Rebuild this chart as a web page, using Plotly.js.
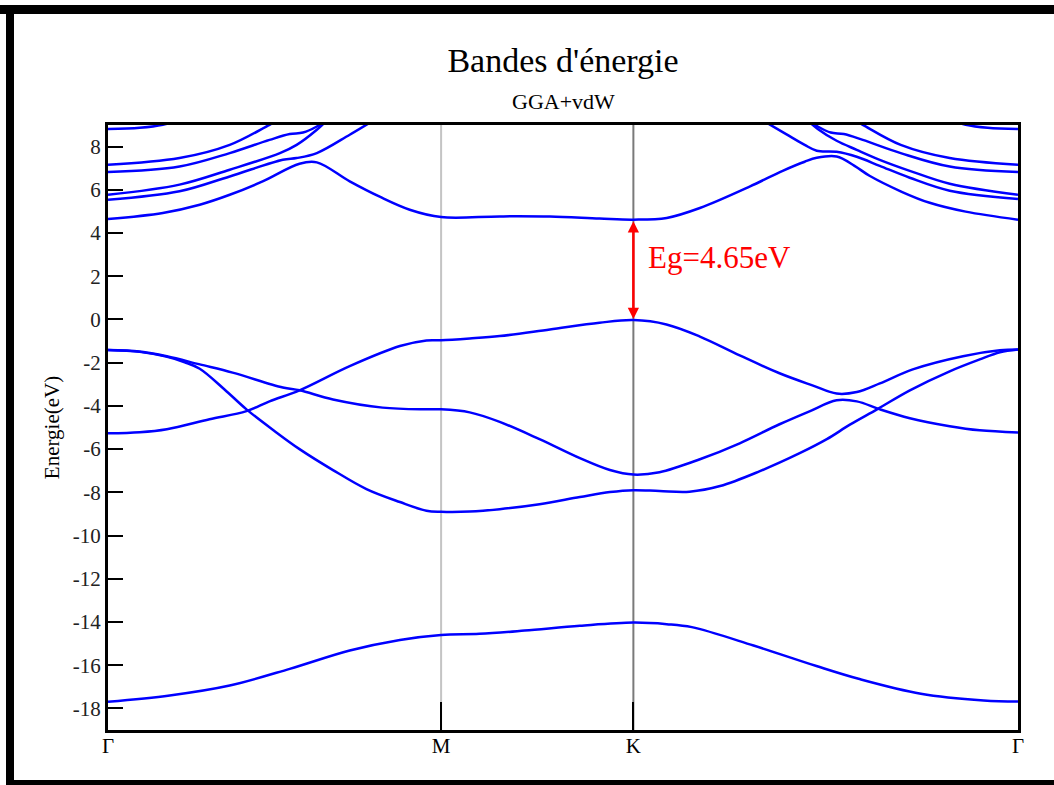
<!DOCTYPE html>
<html>
<head>
<meta charset="utf-8">
<script src="https://cdn.plot.ly/plotly-3.0.1.min.js"></script>
<style>
  html, body { margin: 0; padding: 0; background: #ffffff; }
  #chart { width: 1054px; height: 785px; }
</style>
</head>
<body>
<div id="chart"></div>
<script>
// High-symmetry points along the path (k in path units)
const kLabels = ['Γ', 'M', 'K', 'Γ'];
const kTicks = [0, 0.5774, 0.9107, 1.5774];
const eTicks = [-18, -16, -14, -12, -10, -8, -6, -4, -2, 0, 2, 4, 6, 8];
const eTickText = ['-18', '-16', '-14', '-12', '-10', '-8', '-6', '-4', '-2', '0', '2', '4', '6', '8'];

// Lowest valence band
const kS = [0, 0.107, 0.211, 0.315, 0.419, 0.506, 0.5774, 0.644, 0.722, 0.818, 0.9107, 0.9685, 1.012, 1.119, 1.228, 1.301, 1.409, 1.518, 1.5774];
const eS = [-17.69, -17.40, -16.94, -16.17, -15.32, -14.83, -14.60, -14.55, -14.40, -14.18, -14.03, -14.10, -14.24, -15.09, -16.04, -16.63, -17.32, -17.63, -17.68];

// Valence band A (Γ -1.4 -> M -8.9 -> K -7.9 -> Γ -1.4)
const kVA = [0, 0.055, 0.101, 0.133, 0.159, 0.202, 0.240, 0.289, 0.332, 0.390, 0.448, 0.506, 0.552, 0.5774, 0.627, 0.679, 0.748, 0.818, 0.870, 0.9107, 0.956, 1.008, 1.061, 1.130, 1.199, 1.246, 1.286, 1.333, 1.390, 1.459, 1.511, 1.546, 1.5774];
const eVA = [-1.41, -1.50, -1.72, -1.98, -2.28, -3.24, -4.16, -5.17, -6.00, -6.97, -7.85, -8.45, -8.85, -8.90, -8.89, -8.78, -8.55, -8.22, -7.99, -7.90, -7.94, -7.97, -7.71, -7.02, -6.19, -5.54, -4.87, -4.16, -3.28, -2.40, -1.85, -1.52, -1.39];

// Valence band B (Γ -1.4 -> M -4.16 -> K -7.2 -> Γ -5.2)
const kVB = [0, 0.055, 0.102, 0.159, 0.216, 0.303, 0.332, 0.390, 0.476, 0.552, 0.5774, 0.627, 0.679, 0.748, 0.818, 0.870, 0.9107, 0.956, 1.026, 1.095, 1.164, 1.216, 1.263, 1.298, 1.338, 1.390, 1.459, 1.511, 1.5774];
const eVB = [-1.41, -1.48, -1.70, -2.08, -2.46, -3.15, -3.28, -3.70, -4.08, -4.16, -4.16, -4.30, -4.74, -5.54, -6.42, -6.97, -7.18, -7.07, -6.47, -5.73, -4.85, -4.25, -3.74, -3.79, -4.16, -4.57, -4.94, -5.13, -5.23];

// Valence band C (top valence: Γ -5.27 -> M -0.96 -> K 0 -> Γ -1.4)
const kVC = [0, 0.055, 0.102, 0.176, 0.240, 0.280, 0.332, 0.419, 0.506, 0.552, 0.5774, 0.627, 0.679, 0.766, 0.852, 0.9107, 0.968, 1.026, 1.095, 1.164, 1.221, 1.263, 1.298, 1.338, 1.395, 1.482, 1.546, 1.5774];
const eVC = [-5.27, -5.22, -5.08, -4.62, -4.24, -3.79, -3.28, -2.16, -1.23, -0.97, -0.96, -0.88, -0.77, -0.46, -0.15, -0.03, -0.23, -0.79, -1.66, -2.49, -3.05, -3.43, -3.36, -2.96, -2.31, -1.70, -1.43, -1.39];

// Conduction band 1 (lowest conduction band)
const kC1 = [0, 0.095, 0.159, 0.211, 0.268, 0.332, 0.362, 0.419, 0.471, 0.523, 0.5774, 0.679, 0.766, 0.852, 0.9107, 0.9685, 1.026, 1.113, 1.1695, 1.2076, 1.2285, 1.263, 1.294, 1.320, 1.3758, 1.4243, 1.4867, 1.5774];
const eC1 = [4.65, 4.93, 5.31, 5.77, 6.39, 7.21, 7.27, 6.39, 5.68, 5.08, 4.74, 4.77, 4.76, 4.67, 4.62, 4.70, 5.16, 6.16, 6.88, 7.30, 7.48, 7.54, 7.11, 6.65, 5.91, 5.40, 4.99, 4.62];

// Upper conduction bands, Γ -> M side
const kC2L = [0, 0.124, 0.211, 0.303, 0.327, 0.362, 0.419, 0.462];
const eC2L = [5.54, 5.93, 6.62, 7.39, 7.47, 7.70, 8.55, 9.24];
const kC3L = [0, 0.124, 0.211, 0.298, 0.327, 0.362, 0.384];
const eC3L = [5.77, 6.24, 6.93, 7.70, 8.08, 8.78, 9.33];
const kC4L = [0, 0.124, 0.211, 0.280, 0.315, 0.338, 0.362, 0.384];
const eC4L = [6.82, 7.08, 7.70, 8.31, 8.58, 8.65, 8.93, 9.33];
const kC5L = [0, 0.124, 0.211, 0.280, 0.306];
const eC5L = [7.16, 7.47, 8.08, 9.01, 9.38];
const kC6L = [0, 0.055, 0.095, 0.124];
const eC6L = [8.81, 8.87, 9.01, 9.24];

// Upper conduction bands, K -> Γ side
const kC2R = [1.1331, 1.1747, 1.2076, 1.2285, 1.263, 1.2978, 1.3377, 1.3897, 1.459, 1.5774];
const eC2R = [9.24, 8.59, 8.08, 7.81, 7.76, 7.53, 7.11, 6.56, 5.96, 5.58];
const kC3R = [1.2076, 1.2303, 1.263, 1.2978, 1.3377, 1.3897, 1.459, 1.5774];
const eC3R = [9.33, 8.82, 8.27, 7.85, 7.39, 6.88, 6.28, 5.77];
const kC4R = [1.2076, 1.2303, 1.2527, 1.2754, 1.3083, 1.3741, 1.459, 1.5774];
const eC4R = [9.33, 8.93, 8.65, 8.58, 8.31, 7.70, 7.08, 6.82];
const kC5R = [1.2839, 1.3083, 1.3741, 1.459, 1.5774];
const eC5R = [9.38, 9.01, 8.08, 7.47, 7.16];
const kC6R = [1.459, 1.4867, 1.5248, 1.5774];
const eC6R = [9.24, 9.01, 8.87, 8.81];

// Band gap annotation
const gapK = 0.9107;
const gapBottom = -0.05;
const gapTop = 4.55;
const gapLabel = 'Eg=4.65eV';

const bands = [
  [kS, eS], [kVA, eVA], [kVB, eVB], [kVC, eVC], [kC1, eC1],
  [kC2L, eC2L], [kC3L, eC3L], [kC4L, eC4L], [kC5L, eC5L], [kC6L, eC6L],
  [kC2R, eC2R], [kC3R, eC3R], [kC4R, eC4R], [kC5R, eC5R], [kC6R, eC6R]
];

const serif = 'Liberation Serif, Times New Roman, serif';

const traces = bands.map(function (b) {
  return {
    x: b[0], y: b[1], type: 'scatter', mode: 'lines',
    line: { color: 'rgb(0,0,255)', width: 2.5, shape: 'spline', smoothing: 1 },
    hoverinfo: 'skip', showlegend: false
  };
});

// page frame (paper coords), plot area is 108..1018 x 125..730 px
const L = 108, R = 36, T = 125, B = 55, W = 1054, H = 785;
const pw = W - L - R, ph = H - T - B;
function px(x) { return (x - L) / pw; }
function py(y) { return (H - B - y) / ph; }

const layout = {
  width: W, height: H,
  margin: { l: L, r: R, t: T, b: B },
  paper_bgcolor: '#ffffff', plot_bgcolor: '#ffffff',
  showlegend: false,
  title: {
    text: "Bandes d'énergie",
    font: { family: serif, size: 34, color: '#000' },
    x: 0.5, xref: 'paper', xanchor: 'center',
    y: 1 - 60 / H, yref: 'container', yanchor: 'middle'
  },
  xaxis: {
    range: [0, kTicks[3]],
    tickvals: kTicks, ticktext: kLabels,
    ticks: 'inside', ticklen: 28, tickwidth: 2, tickcolor: '#000',
    showline: true, mirror: true, linewidth: 3, linecolor: '#000',
    showgrid: false, zeroline: false,
    tickfont: { family: serif, size: 21, color: '#000' },
    ticklabelstandoff: -5,
    fixedrange: true
  },
  yaxis: {
    range: [-19, 9],
    tickvals: eTicks, ticktext: eTickText,
    ticks: 'inside', ticklen: 15, tickwidth: 2, tickcolor: '#000',
    showline: true, mirror: true, linewidth: 3, linecolor: '#000',
    showgrid: false, zeroline: false,
    tickfont: { family: serif, size: 21, color: '#222' },
    title: { text: 'Energie(eV)', font: { family: serif, size: 21, color: '#000' }, standoff: 8 },
    fixedrange: true
  },
  shapes: [
    { type: 'line', xref: 'x', yref: 'paper', x0: kTicks[1], x1: kTicks[1], y0: 0, y1: 1,
      line: { color: '#c4c4c4', width: 2 }, layer: 'below' },
    { type: 'line', xref: 'x', yref: 'paper', x0: kTicks[2], x1: kTicks[2], y0: 0, y1: 1,
      line: { color: '#7a7a7a', width: 2 }, layer: 'below' },
    // outer black frame
    { type: 'rect', xref: 'paper', yref: 'paper', x0: px(0), x1: px(W), y0: py(14), y1: py(5),
      fillcolor: '#000', line: { width: 0 } },
    { type: 'rect', xref: 'paper', yref: 'paper', x0: px(6), x1: px(14), y0: py(H), y1: py(5),
      fillcolor: '#000', line: { width: 0 } },
    { type: 'rect', xref: 'paper', yref: 'paper', x0: px(6), x1: px(W), y0: py(H), y1: py(780),
      fillcolor: '#000', line: { width: 0 } }
  ],
  annotations: [
    { text: 'GGA+vdW', xref: 'paper', yref: 'paper', x: 0.5, y: py(101),
      xanchor: 'center', yanchor: 'middle', showarrow: false,
      font: { family: serif, size: 22, color: '#000' } },
    { x: gapK, y: gapTop, ax: gapK, ay: gapBottom, xref: 'x', yref: 'y', axref: 'x', ayref: 'y',
      text: '', showarrow: true, arrowside: 'end+start', arrowhead: 2, startarrowhead: 2,
      arrowsize: 0.9, startarrowsize: 0.9, arrowwidth: 2.5, arrowcolor: 'rgb(255,0,0)' },
    { x: gapK + 0.022, y: 2.87, xref: 'x', yref: 'y', text: gapLabel, showarrow: false,
      xanchor: 'left', yanchor: 'middle',
      font: { family: serif, size: 31, color: 'rgb(255,0,0)' } }
  ]
};

Plotly.newPlot('chart', traces, layout, { staticPlot: true, displayModeBar: false });
</script>
</body>
</html>
